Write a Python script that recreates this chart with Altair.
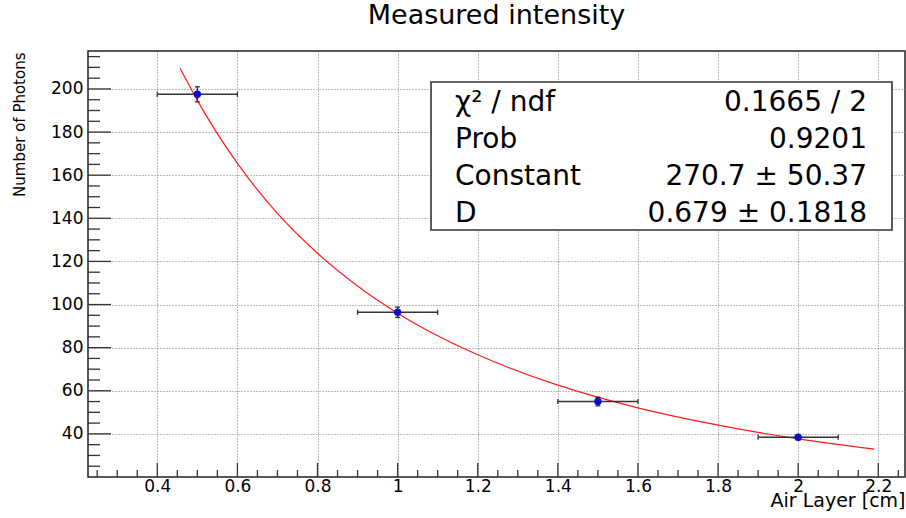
import altair as alt
import pandas as pd

# ---- data ----
air_layer = [0.5, 1.0, 1.5, 2.0]
photons = [197.5, 96.4, 55.0, 38.4]
air_err = [0.1, 0.1, 0.1, 0.1]
photon_err = [3.5, 2.4, 2.0, 1.2]

fit_x = [0.457, 0.5, 0.6, 0.7, 0.8, 0.9, 1.0, 1.1, 1.2, 1.4, 1.6, 1.8, 2.0, 2.19]
fit_y = [209.6, 194.7, 165.5, 142.3, 123.8, 108.6, 96.0, 85.5, 76.7, 62.6, 52.1, 44.1, 37.7, 32.9]

x_major = [0.4, 0.6, 0.8, 1.0, 1.2, 1.4, 1.6, 1.8, 2.0, 2.2]
x_minor = [0.25, 0.3, 0.35, 0.45, 0.5, 0.55, 0.65, 0.7, 0.75, 0.85, 0.9, 0.95,
           1.05, 1.1, 1.15, 1.25, 1.3, 1.35, 1.45, 1.5, 1.55, 1.65, 1.7, 1.75,
           1.85, 1.9, 1.95, 2.05, 2.1, 2.15, 2.25]
y_major = [40, 60, 80, 100, 120, 140, 160, 180, 200]
y_minor = [25, 30, 35, 45, 50, 55, 65, 70, 75, 85, 90, 95, 105, 110, 115,
           125, 130, 135, 145, 150, 155, 165, 170, 175, 185, 190, 195, 205, 210, 215]

stat_labels = ["χ² / ndf", "Prob", "Constant", "D"]
stat_values = ["0.1665 / 2", "0.9201", "270.7 ± 50.37", "0.679 ± 0.1818"]

# ---- layout ----
W, H = 817, 426
FONT = "DejaVu Sans"
TICK_COLOR = "#333333"

df = pd.DataFrame({
    "x": air_layer, "y": photons,
    "xlo": [a - e for a, e in zip(air_layer, air_err)],
    "xhi": [a + e for a, e in zip(air_layer, air_err)],
    "ylo": [p - e for p, e in zip(photons, photon_err)],
    "yhi": [p + e for p, e in zip(photons, photon_err)],
})
fit_df = pd.DataFrame({"x": fit_x, "y": fit_y})

xscale = alt.Scale(domain=[0.227, 2.2667], nice=False, zero=False)
yscale = alt.Scale(domain=[20, 217.6], nice=False, zero=False)

xaxis = alt.Axis(values=x_major, labelExpr="format(datum.value, '~g')",
                 grid=True, gridDash=[1, 2], gridColor="#7a7a7a", gridWidth=1,
                 ticks=False, domain=False, labelFont=FONT, labelFontSize=17,
                 labelColor="black", labelPadding=1,
                 title="Air Layer [cm]", titleFont=FONT, titleFontSize=19,
                 titleFontWeight="normal", titleColor="black",
                 titleAlign="right", titleBaseline="alphabetic", titleAnchor="end",
                 titleX=W, titleY=29)
yaxis = alt.Axis(values=y_major, grid=True, gridDash=[1, 2], gridColor="#7a7a7a",
                 gridWidth=1, ticks=False, domain=False, labelFont=FONT,
                 labelFontSize=17, labelColor="black", labelPadding=5,
                 title="Number of Photons", titleFont=FONT, titleFontSize=15,
                 titleFontWeight="normal", titleColor="black", titleAngle=270,
                 titleAlign="right", titleBaseline="bottom", titleAnchor="end",
                 titleX=-61, titleY=1)

X = lambda f: alt.X(f, type="quantitative", scale=xscale, axis=xaxis)
Y = lambda f: alt.Y(f, type="quantitative", scale=yscale, axis=yaxis)

layers = []

# inward axis ticks
layers.append(alt.Chart(pd.DataFrame({"v": y_major})).mark_rule(color=TICK_COLOR, strokeWidth=1.3)
              .encode(y=Y("v"), x=alt.value(0), x2=alt.value(23)))
layers.append(alt.Chart(pd.DataFrame({"v": y_minor})).mark_rule(color=TICK_COLOR, strokeWidth=1.3)
              .encode(y=Y("v"), x=alt.value(0), x2=alt.value(12)))
layers.append(alt.Chart(pd.DataFrame({"v": x_major})).mark_rule(color=TICK_COLOR, strokeWidth=1.3)
              .encode(x=X("v"), y=alt.value(H), y2=alt.value(H - 14)))
layers.append(alt.Chart(pd.DataFrame({"v": x_minor})).mark_rule(color=TICK_COLOR, strokeWidth=1.3)
              .encode(x=X("v"), y=alt.value(H), y2=alt.value(H - 7)))

# fit curve
layers.append(alt.Chart(fit_df).mark_line(color="#ff1a1a", strokeWidth=1.2, interpolate="monotone")
              .encode(x=X("x"), y=Y("y")))

# error bars
base = alt.Chart(df)
layers.append(base.mark_rule(color="#333333", strokeWidth=1.5)
              .encode(x=X("xlo"), x2="xhi", y=Y("y")))
layers.append(base.mark_rule(color="#333333", strokeWidth=1.5)
              .encode(x=X("x"), y=Y("ylo"), y2="yhi"))
for f in ["xlo", "xhi"]:
    layers.append(base.mark_tick(orient="vertical", size=5, thickness=1.3, color="#333333", opacity=1)
                  .encode(x=X(f), y=Y("y")))
for f in ["ylo", "yhi"]:
    layers.append(base.mark_tick(orient="horizontal", size=5, thickness=1.3, color="#333333", opacity=1)
                  .encode(x=X("x"), y=Y(f)))

# points
layers.append(base.mark_point(filled=True, shape="circle", size=55, color="#0a0ad2", opacity=1)
              .encode(x=X("x"), y=Y("y")))

# stats box
layers.append(alt.Chart(pd.DataFrame({"a": [0]})).mark_rect(fill="white", stroke="#333333", strokeWidth=1.6)
              .encode(x=alt.value(343), x2=alt.value(804), y=alt.value(31), y2=alt.value(179)))
row_base = [59.5, 97, 134, 171]
for i in range(len(stat_labels)):
    layers.append(alt.Chart(pd.DataFrame({"t": [stat_labels[i]]}))
                  .mark_text(align="left", baseline="alphabetic", font=FONT, fontSize=28, color="black")
                  .encode(x=alt.value(367), y=alt.value(row_base[i]), text="t:N"))
    layers.append(alt.Chart(pd.DataFrame({"t": [stat_values[i]]}))
                  .mark_text(align="right", baseline="alphabetic", font=FONT, fontSize=28, color="black")
                  .encode(x=alt.value(779), y=alt.value(row_base[i]), text="t:N"))

chart = alt.layer(*layers).properties(
    width=W, height=H,
    title=alt.TitleParams("Measured intensity", font=FONT, fontSize=27, fontWeight="normal",
                          color="black", anchor="middle", baseline="alphabetic",
                          frame="group", offset=0),
    autosize=alt.AutoSizeParams(type="none"),
    padding={"left": 88, "top": 51, "right": 1, "bottom": 41},
    background="white",
).configure_view(stroke="#222222", strokeWidth=1.5)

chart.save("out.html", embed_options={"renderer": "svg", "actions": False})
